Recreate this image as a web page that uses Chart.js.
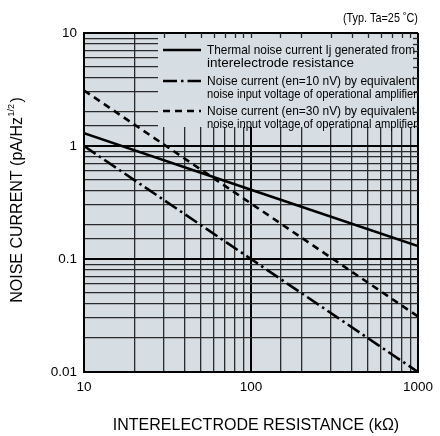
<!DOCTYPE html>
<html lang="en">
<head>
<meta charset="UTF-8">
<title>Noise current vs interelectrode resistance</title>
<script src="https://cdn.jsdelivr.net/npm/chart.js@4.4.1/dist/chart.umd.js"></script>
<style>
  html, body { margin: 0; padding: 0; background: #fff; }
  #wrap { width: 440px; height: 436px; }
</style>
</head>
<body>
<div id="wrap"><canvas id="chart" width="440" height="436"></canvas></div>
<script>
// interelectrode resistance (kOhm)
const resistance = [10, 100, 1000];
// thermal noise current Ij of the resistance (pA/Hz^1/2)
const thermalNoise = [1.3, 0.41, 0.13];
// current from en = 10 nV amplifier input noise
const noise10nV = [1, 0.1, 0.01];
// current from en = 30 nV amplifier input noise
const noise30nV = [3.1, 0.31, 0.031];

const xTickLabels = ['10', '100', '1000'];
const yTickLabels = ['0.01', '0.1', '1', '10'];

const legendText = [
  ['Thermal noise current Ij generated from', 'interelectrode resistance'],
  ['Noise current (en=10 nV) by equivalent', 'noise input voltage of operational amplifier'],
  ['Noise current (en=30 nV) by equivalent', 'noise input voltage of operational amplifier']
];

const FONT = '"Liberation Sans", Arial, sans-serif';
const PLOT_BG = 'rgb(214,222,228)';
const INK = '#000';
const DASH_DOT = [14, 4, 2.5, 4];
const DASHED = [7, 5];

function labelFor(labels, v) {
  const i = labels.findIndex(s => Math.abs(Math.log10(Number(s)) - Math.log10(v)) < 1e-6);
  return i >= 0 ? labels[i] : '';
}
function isDecade(v) {
  const l = Math.log10(v);
  return Math.abs(l - Math.round(l)) < 1e-6;
}
function gridColor(c) { return c.tick && isDecade(c.tick.value) ? '#000' : '#2a2a2a'; }
function gridWidth(c) { return c.tick && isDecade(c.tick.value) ? 2 : 1.3; }

function line(ctx, x1, y1, x2, y2) {
  ctx.beginPath();
  ctx.moveTo(x1, y1);
  ctx.lineTo(x2, y2);
  ctx.stroke();
}

const paperPlugin = {
  id: 'paper',
  beforeDraw(chart) {
    const { ctx, chartArea: a } = chart;
    ctx.save();
    ctx.fillStyle = PLOT_BG;
    ctx.fillRect(a.left, a.top, a.right - a.left, a.bottom - a.top);
    ctx.restore();
  },
  beforeDatasetsDraw(chart) {
    // the legend covers the top decade; grid shows only as short ticks there
    const { ctx, chartArea: a, scales } = chart;
    const box = { l: a.left + 74, t: a.top + 1, r: a.right - 1, b: a.top + 94 };
    ctx.save();
    ctx.fillStyle = PLOT_BG;
    ctx.fillRect(box.l, box.t, box.r - box.l, box.b - box.t);

    ctx.strokeStyle = '#2a2a2a';
    ctx.lineWidth = 1.3;
    scales.x.ticks.forEach(t => {
      const px = Math.round(scales.x.getPixelForValue(t.value)) + 0.5;
      if (px > box.l && px < box.r) line(ctx, px, a.top, px, a.top + 5);
    });
    scales.y.ticks.forEach(t => {
      const py = Math.round(scales.y.getPixelForValue(t.value)) + 0.5;
      if (py > box.t && py < box.b) line(ctx, a.right - 5, py, a.right, py);
    });

    const dashes = [[], DASH_DOT, DASHED];
    const rows = [a.top + 17, a.top + 48, a.top + 78];
    ctx.strokeStyle = INK;
    ctx.lineWidth = 2.5;
    ctx.fillStyle = INK;
    ctx.font = `13.5px ${FONT}`;
    ctx.textAlign = 'left';
    ctx.textBaseline = 'middle';
    legendText.forEach((pair, i) => {
      ctx.setLineDash(dashes[i]);
      line(ctx, box.l + 5, rows[i], box.l + 43, rows[i]);
      ctx.setLineDash([]);
      ctx.fillText(pair[0], box.l + 49, rows[i], 208);
      ctx.fillText(pair[1], box.l + 49, rows[i] + 13, 210);
    });
    ctx.restore();
  },
  afterDraw(chart) {
    const { ctx, chartArea: a } = chart;
    ctx.save();
    ctx.fillStyle = INK;

    ctx.font = `13px ${FONT}`;
    ctx.textAlign = 'right';
    ctx.textBaseline = 'middle';
    ctx.fillText('(Typ. Ta=25 \u02DAC)', a.right, 18, 75);

    ctx.font = `16px ${FONT}`;
    ctx.textAlign = 'center';
    ctx.fillText('INTERELECTRODE RESISTANCE (k\u03A9)', 256, 426, 298);

    // rotated y title with a small 1/2 exponent
    const main = 'NOISE CURRENT (pA/Hz', sup = '1/2', tail = ')';
    ctx.translate(18, 200);
    ctx.rotate(-Math.PI / 2);
    ctx.textAlign = 'left';
    ctx.font = `16px ${FONT}`;
    const w1 = ctx.measureText(main).width;
    const w3 = ctx.measureText(tail).width;
    ctx.font = `9px ${FONT}`;
    const w2 = ctx.measureText(sup).width;
    let x = -(w1 + w2 + w3 + 2) / 2;
    ctx.font = `16px ${FONT}`;
    ctx.fillText(main, x, 0);
    x += w1 + 0.5;
    ctx.font = `9px ${FONT}`;
    ctx.fillText(sup, x, -6);
    x += w2 + 1.5;
    ctx.font = `16px ${FONT}`;
    ctx.fillText(tail, x, 0);
    ctx.restore();
  }
};

function series(ys) {
  return resistance.map((r, i) => ({ x: r, y: ys[i] }));
}

new Chart(document.getElementById('chart'), {
  type: 'line',
  data: {
    datasets: [
      { label: 'thermal', data: series(thermalNoise), borderDash: [] },
      { label: 'en=10 nV', data: series(noise10nV), borderDash: DASH_DOT },
      { label: 'en=30 nV', data: series(noise30nV), borderDash: DASHED }
    ]
  },
  options: {
    responsive: false,
    animation: false,
    layout: { padding: { left: 0, top: 33, right: 16, bottom: 0 } },
    elements: {
      line: { borderColor: INK, borderWidth: 2.6, tension: 0 },
      point: { radius: 0 }
    },
    plugins: { legend: { display: false }, tooltip: { enabled: false } },
    scales: {
      x: {
        type: 'logarithmic',
        min: 10,
        max: 1000,
        afterFit: s => { s.height = 64; },
        grid: { color: gridColor, lineWidth: gridWidth, drawTicks: false },
        border: { display: true, color: '#000', width: 2 },
        ticks: {
          autoSkip: false, maxRotation: 0, padding: 7, color: INK,
          font: { family: FONT, size: 13.5 },
          callback: v => labelFor(xTickLabels, v)
        }
      },
      y: {
        type: 'logarithmic',
        min: 0.01,
        max: 10,
        afterFit: s => { s.width = 84; },
        grid: { color: gridColor, lineWidth: gridWidth, drawTicks: false },
        border: { display: true, color: '#000', width: 2 },
        ticks: {
          autoSkip: false, padding: 7, color: INK,
          font: { family: FONT, size: 13.5 },
          callback: v => labelFor(yTickLabels, v)
        }
      }
    }
  },
  plugins: [paperPlugin]
});
</script>
</body>
</html>
